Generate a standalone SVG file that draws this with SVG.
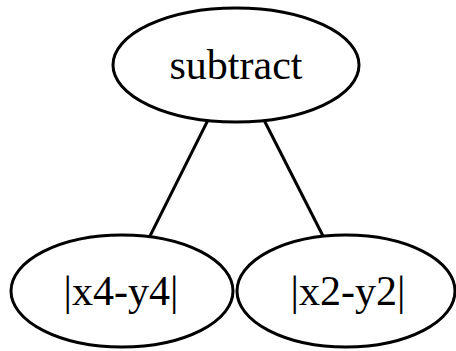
<svg xmlns="http://www.w3.org/2000/svg" width="456" height="351" viewBox="0 0 456 351">
<style>
.n ellipse{fill:#fff;stroke:#000;stroke-width:3}
.n text{font-family:"Liberation Serif","Times New Roman",serif;font-size:42px;text-anchor:middle;fill:#000}
#edges line{stroke:#000;stroke-width:3}
</style>
<rect width="456" height="351" fill="#fff"/>
<g id="edges">
<line x1="208" y1="120" x2="150" y2="236"/>
<line x1="264" y1="120" x2="323" y2="236"/>
</g>
<g id="subtract" class="n">
<ellipse cx="236" cy="65" rx="123" ry="57"/>
<text x="236" y="79">subtract</text>
</g>
<g id="x4y4" class="n">
<ellipse cx="122" cy="291" rx="111" ry="56"/>
<text x="121" y="305">|x4-y4|</text>
</g>
<g id="x2y2" class="n">
<ellipse cx="346" cy="291" rx="109" ry="56"/>
<text x="348" y="305">|x2-y2|</text>
</g>
</svg>
